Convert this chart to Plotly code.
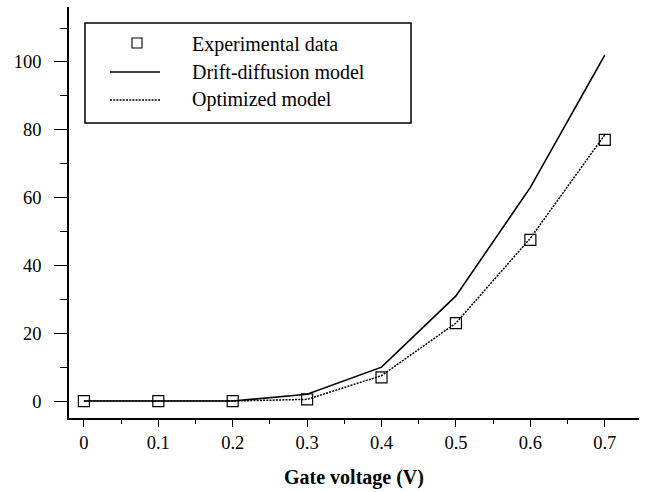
import plotly.graph_objects as go

# ---- data ----
gate_voltage = [0.0, 0.1, 0.2, 0.3, 0.4, 0.5, 0.6, 0.7]
experimental = [0, 0, 0, 0.5, 7, 23, 47.5, 77]
drift_diffusion = [0, 0, 0, 2, 10, 31, 63, 102]
optimized = [0, 0, 0, 0.5, 7.5, 23, 48, 78.5]
legend_labels = ["Experimental data", "Drift-diffusion model", "Optimized model"]
x_title = "Gate voltage (V)"

FONT = "Liberation Serif, Times New Roman, serif"
DOT = "2px,1.2px"

fig = go.Figure()
fig.add_trace(go.Scatter(x=gate_voltage, y=drift_diffusion, mode="lines",
                         line=dict(color="black", width=1.6), showlegend=False,
                         name=legend_labels[1]))
fig.add_trace(go.Scatter(x=gate_voltage, y=optimized, mode="lines",
                         line=dict(color="black", width=1.5, dash=DOT),
                         showlegend=False, name=legend_labels[2]))
fig.add_trace(go.Scatter(x=gate_voltage, y=experimental, mode="markers",
                         marker=dict(symbol="square-open", size=11, color="black",
                                     line=dict(width=1.2, color="black")),
                         showlegend=False, name=legend_labels[0]))

# ---- custom legend (paper coordinates) ----
L, R, T, B = 69, 639, 7, 418
W, H = R - L, B - T
def px(x):
    return (x - L) / W
def py(y):
    return (B - y) / H

shapes = [
    dict(type="rect", xref="paper", yref="paper", x0=px(85), x1=px(411),
         y0=py(123), y1=py(23), line=dict(color="black", width=1.5),
         fillcolor="white", layer="above"),
    dict(type="rect", xref="paper", yref="paper", x0=px(132), x1=px(142),
         y0=py(48), y1=py(38), line=dict(color="black", width=1.1), layer="above"),
    dict(type="line", xref="paper", yref="paper", x0=px(110), x1=px(160),
         y0=py(72), y1=py(72), line=dict(color="black", width=1.6), layer="above"),
    dict(type="line", xref="paper", yref="paper", x0=px(110), x1=px(160),
         y0=py(100), y1=py(100), line=dict(color="black", width=1.5, dash=DOT),
         layer="above"),
]
annotations = []
for lab, yy in zip(legend_labels, [44, 72, 100]):
    annotations.append(dict(text=lab, xref="paper", yref="paper", x=px(190), y=py(yy),
                            xanchor="left", yanchor="middle", showarrow=False,
                            font=dict(family=FONT, size=20, color="black")))

fig.update_layout(
    width=649, height=492,
    margin=dict(l=L, r=649 - R, t=T, b=492 - B),
    paper_bgcolor="white", plot_bgcolor="white",
    font=dict(family=FONT, size=18.5, color="black"),
    shapes=shapes, annotations=annotations,
    xaxis=dict(range=[-0.02, 0.746], dtick=0.1, tick0=0, showgrid=False, zeroline=False,
               showline=True, linecolor="black", linewidth=1.5,
               ticks="outside", ticklen=7, tickwidth=1.2, tickcolor="black",
               minor=dict(dtick=0.05, ticks="outside", ticklen=4, tickwidth=1.2,
                          tickcolor="black", showgrid=False),
               tickfont=dict(family=FONT, size=18.5),
               title=dict(text="<b>" + x_title + "</b>", standoff=18,
                          font=dict(family=FONT, size=20))),
    yaxis=dict(range=[-5, 116.2], dtick=20, tick0=0, showgrid=False, zeroline=False,
               showline=True, linecolor="black", linewidth=1.5,
               ticks="outside", ticklen=13, tickwidth=1.2, tickcolor="black",
               minor=dict(dtick=10, ticks="outside", ticklen=7, tickwidth=1.2,
                          tickcolor="black", showgrid=False),
               tickfont=dict(family=FONT, size=18.5), ticklabelstandoff=9),
)

fig.write_html("out.html")
